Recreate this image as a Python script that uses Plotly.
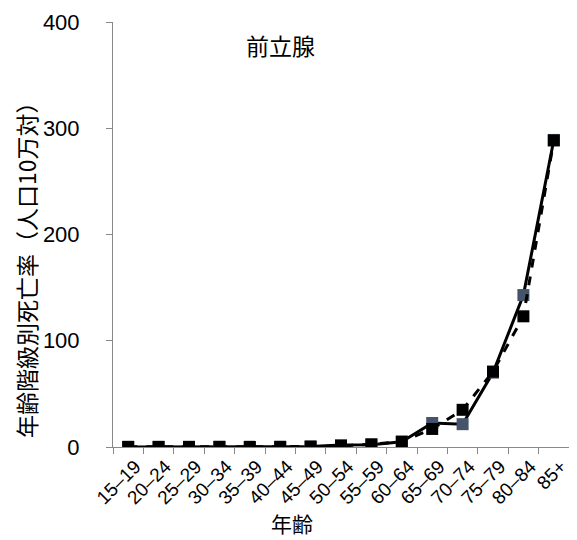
import plotly.graph_objects as go

categories = ["15–19", "20–24", "25–29", "30–34", "35–39", "40–44", "45–49",
              "50–54", "55–59", "60–64", "65–69", "70–74", "75–79", "80–84", "85+"]
series_solid = [0.1, 0.1, 0.1, 0.2, 0.1, 0.2, 0.4, 1.8, 2.2, 5.0, 22.6, 21.5, 70.0, 143.0, 289.0]
series_dashed = [0.1, 0.1, 0.1, 0.1, 0.1, 0.1, 0.4, 1.0, 2.5, 5.0, 17.0, 35.0, 71.0, 123.0, 288.5]
y_ticks = [0, 100, 200, 300, 400]

font_jp = "Noto Sans CJK JP, sans-serif"
font_num = "Liberation Sans, Arial, Noto Sans CJK JP, sans-serif"

# page has an 8px body margin; plot area target (page px): x 113..569, y 22..447
PX0, PX1, PY0, PY1 = 113, 569, 22, 447


def px(x):
    return (x - PX0) / (PX1 - PX0)


def py(y):
    return 1 - (y - PY0) / (PY1 - PY0)


fig = go.Figure()
fig.add_trace(go.Scatter(
    x=categories, y=series_solid, mode="lines+markers",
    line=dict(color="black", width=3),
    marker=dict(symbol="square", size=12, color="#44546A"),
    showlegend=False))
fig.add_trace(go.Scatter(
    x=categories, y=series_dashed, mode="lines+markers",
    line=dict(color="black", width=3, dash="dash"),
    marker=dict(symbol="square", size=12, color="black"),
    showlegend=False))

fig.update_layout(
    width=569, height=532,
    margin=dict(l=105, r=8, t=14, b=93),
    paper_bgcolor="white", plot_bgcolor="white",
    annotations=[
        dict(text="前立腺", x=px(280), y=py(45), xref="paper", yref="paper",
             xanchor="center", yanchor="middle",
             showarrow=False, font=dict(family=font_jp, size=23, color="black")),
        dict(text="年齢", x=px(292), y=py(523), xref="paper", yref="paper",
             xanchor="center", yanchor="middle",
             showarrow=False, font=dict(family=font_jp, size=21, color="black")),
        dict(text="年齢階級別死亡率（人口10万対）", x=px(26), y=py(264), xref="paper", yref="paper",
             xanchor="center", yanchor="middle", textangle=-90,
             showarrow=False, font=dict(family=font_jp, size=23, color="black")),
    ],
)

fig.update_xaxes(
    type="category", range=[-0.5, len(categories) - 0.5],
    showline=True, linecolor="#888888", linewidth=1,
    ticks="outside", tickson="boundaries", ticklen=6, tickcolor="#888888",
    tickangle=-45, ticklabelshift=7, tickfont=dict(family=font_num, size=19, color="black"),
    showgrid=False, zeroline=False, automargin=False,
)
fig.update_yaxes(
    range=[0, 400], tickvals=y_ticks, showline=True, linecolor="#888888", linewidth=1,
    ticks="outside", ticklen=6, tickcolor="#888888", ticklabelstandoff=22,
    tickfont=dict(family=font_num, size=22, color="black"),
    showgrid=False, zeroline=False, automargin=False,
)

fig.write_html("out.html")
